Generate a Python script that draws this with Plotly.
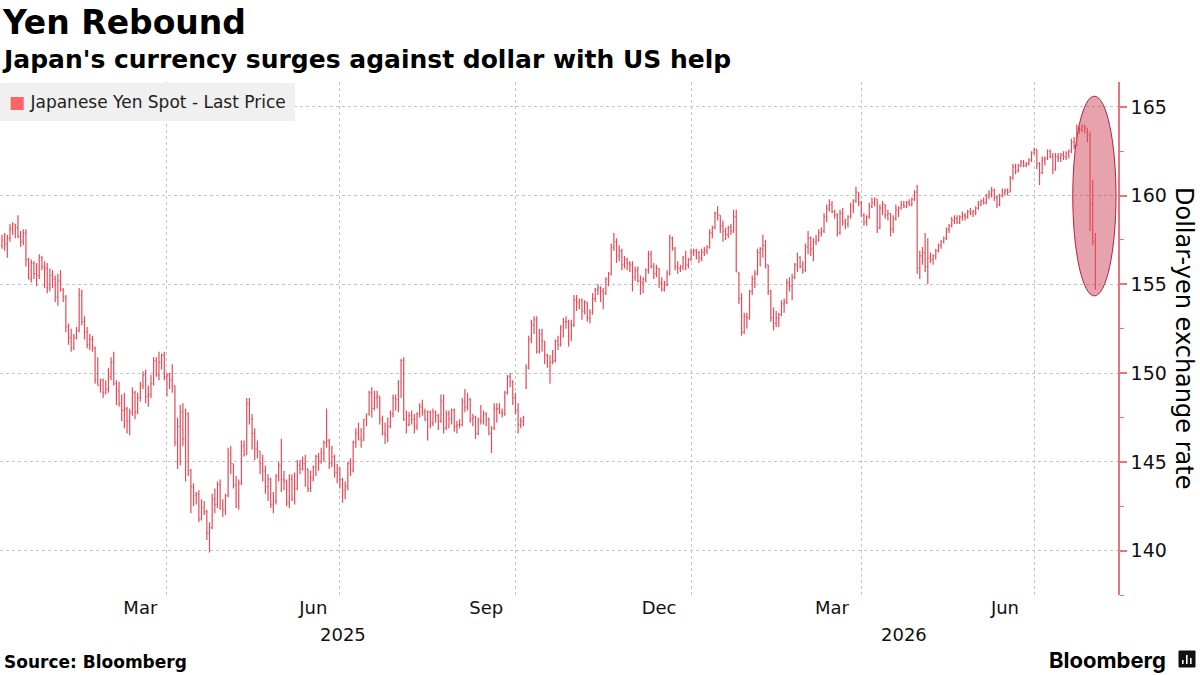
import pandas as pd
import plotly.graph_objects as go

# ---------------- data ----------------
SERIES = "Japanese Yen Spot - Last Price"
dates = pd.bdate_range("2025-01-02", "2026-07-31")  # daily (business day) bars

opens = [
    157.2, 157.5,
    157.3, 157.6, 158.1, 158.4, 158.2,
    157.7, 157.4, 157.9, 156.4, 155.3,
    156.2, 155.6, 155.5, 156.5, 156.0,
    155.9, 154.8, 155.5, 155.3, 154.3,
    155.2, 154.7, 154.3, 152.6, 152.0,
    151.4, 152.0, 152.4, 154.4, 152.9,
    152.3, 151.6, 151.9, 151.4, 149.6,
    149.3, 149.6, 148.9, 149.1, 149.8,
    150.6, 149.4, 149.0, 148.3, 147.9,
    148.0, 147.3, 147.8, 148.9, 147.8,
    148.6, 149.3, 149.9, 148.7, 148.8,
    149.4, 150.7, 149.9, 150.6, 151.0,
    149.8, 149.9, 149.6, 149.3, 146.1,
    147.0, 147.8, 146.3, 147.7, 144.5,
    143.6, 143.1, 143.2, 141.8, 142.4,
    142.2, 141.0, 141.3, 142.9, 142.6,
    143.7, 142.4, 142.3, 143.1, 145.4,
    144.9, 143.7, 142.5, 143.8, 145.9,
    145.4, 148.3, 147.4, 146.6, 145.7,
    145.6, 144.9, 144.5, 143.6, 144.0,
    142.6, 142.8, 144.2, 144.8, 144.0,
    143.9, 142.7, 144.0, 142.9, 143.5,
    144.8, 144.6, 144.9, 144.6, 143.5,
    144.1, 144.7, 145.3, 145.0, 145.5,
    146.1, 146.2, 144.9, 145.3, 144.4,
    144.6, 144.0, 143.4, 143.6, 144.9,
    144.5, 146.1, 146.6, 146.3, 146.2,
    147.4, 147.7, 148.9, 148.0, 148.6,
    148.7, 147.4, 146.6, 146.5, 147.0,
    147.7, 148.6, 148.5, 149.5, 150.7,
    147.4, 147.1, 147.6, 147.4, 147.0,
    147.7, 148.1, 147.8, 147.4, 147.8,
    147.2, 147.8, 147.6, 147.3, 148.4,
    146.9, 147.7, 147.4, 147.9, 147.0,
    147.1, 147.1, 148.4, 148.1, 148.5,
    147.4, 147.5, 146.6, 147.4, 147.3,
    147.7, 147.4, 146.6, 146.9, 148.0,
    148.0, 147.8, 147.7, 148.9, 149.8,
    149.5, 148.6, 147.9, 147.1, 147.3,
    149.2, 150.3, 151.9, 152.7, 153.0,
    151.2, 152.2, 151.8, 151.0, 150.4,
    150.6, 150.7, 151.8, 151.6, 152.6,
    152.9, 152.9, 152.1, 152.7, 154.1,
    154.0, 154.1, 153.5, 154.0, 153.1,
    153.4, 154.2, 154.7, 154.8, 154.6,
    154.5, 155.3, 155.6, 157.1, 157.4,
    156.6, 156.9, 156.1, 156.4, 156.2,
    156.1, 155.4, 155.8, 155.2, 155.1,
    155.3, 155.8, 156.7, 156.0, 155.6,
    155.9, 155.1, 154.7, 155.0, 155.6,
    157.6, 157.0, 156.0, 155.9, 156.0,
    156.5, 156.1, 156.4, 156.8, 156.9,
    156.8, 156.5, 156.8, 156.9, 157.1,
    157.9, 158.2, 159.0, 158.9, 158.3,
    158.0, 157.8, 158.2, 158.0, 158.8,
    155.6, 154.2, 152.3, 153.2, 153.1,
    154.6, 155.3, 155.6, 156.8, 157.0,
    157.2, 156.1, 154.6, 153.1, 152.8,
    153.1, 153.3, 153.9, 154.0, 155.1,
    154.9, 155.4, 156.1, 156.5, 156.0,
    155.8, 157.1, 157.6, 157.0, 157.4,
    157.5, 157.9, 158.0, 158.8, 159.3,
    159.5, 159.1, 158.9, 157.9, 159.0,
    158.5, 158.4, 158.8, 159.4, 159.7,
    160.2, 159.6, 158.9, 158.5, 158.8,
    159.4, 159.6, 159.8, 158.2, 159.3,
    159.5, 158.9, 159.0, 158.1, 158.7,
    159.2, 159.3, 159.5, 159.4, 159.6,
    159.5, 159.8, 160.2, 155.9, 156.6,
    156.8, 156.0, 156.5, 156.4, 156.6,
    156.9, 157.2, 157.4, 157.6, 158.1,
    158.3, 158.6, 158.7, 158.5, 158.8,
    158.9, 158.8, 159.1, 159.0, 159.1,
    159.3, 159.5, 159.7, 159.6, 160.0,
    160.1, 160.3, 159.9, 159.5, 160.0,
    160.2, 160.3, 160.2, 161.0, 161.6,
    161.4, 161.7, 161.9, 161.7, 161.8,
    162.0, 162.4, 162.6, 161.8, 161.3,
    162.0, 162.1, 162.5, 162.2, 161.5,
    162.2, 162.1, 162.3, 162.2, 162.4,
    162.5, 163.0, 162.8, 163.8, 163.7,
    163.9, 163.8, 163.4, 159.5, 157.4,
]

highs = [
    157.8, 157.9,
    157.8, 158.4, 158.5, 158.4, 158.9,
    158.0, 158.1, 158.1, 156.5, 156.4,
    156.3, 156.2, 156.7, 156.6, 156.3,
    156.2, 155.9, 155.8, 155.5, 155.6,
    155.8, 154.8, 154.4, 152.8, 152.5,
    152.2, 152.6, 154.8, 154.7, 153.2,
    152.6, 152.2, 152.1, 151.5, 150.9,
    149.7, 149.7, 149.6, 150.3, 150.9,
    151.2, 149.6, 149.5, 148.8, 148.9,
    148.1, 148.0, 149.2, 149.0, 148.9,
    149.5, 150.1, 150.2, 149.3, 149.9,
    150.9, 150.9, 151.2, 151.1, 151.2,
    150.0, 150.0, 150.5, 149.3, 147.5,
    148.2, 148.3, 148.0, 147.8, 144.6,
    143.8, 143.3, 143.4, 142.9, 142.8,
    142.3, 141.6, 143.2, 143.5, 143.9,
    144.0, 142.9, 143.2, 145.8, 145.9,
    144.9, 144.2, 144.0, 146.2, 146.2,
    148.6, 148.6, 147.7, 146.9, 146.2,
    145.6, 145.4, 144.8, 144.3, 144.1,
    143.3, 144.3, 145.0, 146.3, 144.5,
    144.0, 144.3, 144.3, 144.4, 145.1,
    145.1, 145.3, 145.4, 144.6, 144.5,
    144.8, 145.4, 145.5, 145.8, 146.2,
    148.0, 146.3, 145.9, 145.4, 144.9,
    144.7, 144.1, 143.9, 145.0, 145.2,
    146.2, 146.9, 147.2, 146.9, 147.4,
    147.7, 149.0, 149.2, 149.0, 149.0,
    148.7, 147.6, 147.2, 147.5, 147.9,
    148.8, 148.8, 149.6, 150.8, 150.9,
    147.9, 147.8, 147.9, 147.7, 147.8,
    148.3, 148.5, 148.0, 147.9, 147.9,
    148.0, 147.9, 147.7, 148.8, 148.8,
    147.9, 147.9, 148.0, 148.0, 147.3,
    147.4, 148.6, 149.1, 148.9, 148.6,
    147.7, 147.6, 147.5, 148.2, 147.9,
    147.8, 147.5, 147.0, 148.3, 148.3,
    148.3, 148.0, 149.0, 149.9, 150.0,
    149.6, 148.9, 148.3, 147.5, 147.6,
    150.5, 152.1, 153.0, 153.2, 153.2,
    152.5, 152.5, 151.8, 151.1, 151.0,
    151.3, 151.9, 152.1, 152.7, 153.1,
    153.2, 153.0, 153.0, 154.4, 154.4,
    154.2, 154.2, 154.1, 154.0, 153.6,
    154.5, 154.8, 155.0, 154.9, 154.8,
    155.4, 155.7, 157.3, 157.9, 157.6,
    157.2, 157.0, 156.6, 156.5, 156.3,
    156.3, 156.0, 156.0, 155.5, 155.4,
    155.9, 156.9, 156.9, 156.2, 156.1,
    155.9, 155.4, 155.2, 155.8, 157.8,
    157.7, 157.1, 156.3, 156.1, 156.6,
    156.9, 156.5, 157.0, 157.0, 157.0,
    156.9, 157.0, 157.1, 157.2, 158.1,
    158.3, 159.1, 159.4, 158.9, 158.6,
    158.2, 158.3, 158.4, 159.2, 159.2,
    155.7, 154.5, 153.4, 153.4, 154.7,
    155.5, 155.8, 157.0, 157.1, 157.8,
    157.5, 156.1, 154.7, 153.7, 153.5,
    153.4, 154.1, 154.2, 155.3, 155.4,
    155.6, 156.2, 156.8, 156.6, 156.3,
    157.3, 158.0, 157.7, 157.6, 157.8,
    158.1, 158.2, 159.0, 159.5, 159.8,
    159.7, 159.2, 159.0, 159.2, 159.3,
    158.7, 158.9, 159.6, 159.8, 160.5,
    160.2, 159.7, 159.0, 158.9, 159.6,
    159.9, 159.9, 159.8, 159.5, 159.7,
    159.5, 159.2, 159.0, 158.9, 159.5,
    159.4, 159.7, 159.7, 159.7, 159.8,
    159.9, 160.3, 160.6, 156.9, 157.1,
    157.9, 157.6, 156.8, 156.7, 157.0,
    157.3, 157.5, 157.7, 158.2, 158.4,
    158.8, 158.9, 158.9, 158.9, 159.1,
    159.0, 159.2, 159.3, 159.2, 159.4,
    159.7, 159.8, 159.9, 160.1, 160.3,
    160.5, 160.4, 160.0, 160.1, 160.4,
    160.4, 160.4, 161.1, 161.8, 161.8,
    161.8, 162.0, 162.0, 161.9, 162.1,
    162.5, 162.7, 162.6, 161.9, 162.2,
    162.2, 162.6, 162.6, 162.4, 162.4,
    162.4, 162.4, 162.5, 162.5, 162.6,
    163.2, 163.3, 164.0, 164.0, 164.0,
    164.0, 163.8, 163.6, 160.9, 157.9,
]

lows = [
    157.0, 156.9,
    156.5, 157.4, 157.8, 157.6, 157.6,
    157.1, 157.2, 156.0, 155.3, 155.1,
    155.3, 154.9, 155.3, 155.8, 154.8,
    154.5, 154.6, 154.8, 154.0, 153.8,
    154.6, 154.0, 152.3, 151.6, 151.2,
    151.3, 151.9, 152.3, 152.7, 151.9,
    151.4, 151.3, 151.2, 149.4, 149.3,
    148.9, 148.6, 148.8, 148.9, 149.6,
    149.3, 148.2, 148.1, 147.3, 146.9,
    146.6, 146.5, 147.6, 147.4, 147.7,
    148.4, 149.1, 148.3, 148.1, 148.6,
    149.3, 149.8, 149.6, 150.2, 149.6,
    148.7, 149.1, 148.9, 145.9, 144.6,
    144.8, 145.9, 143.9, 144.2, 142.1,
    142.5, 142.6, 141.6, 141.7, 142.0,
    140.6, 139.9, 141.2, 142.1, 142.4,
    142.3, 141.9, 142.0, 143.0, 144.3,
    143.5, 142.4, 142.3, 143.7, 145.3,
    145.4, 147.1, 145.7, 145.1, 145.2,
    144.3, 143.9, 143.2, 142.8, 142.4,
    142.1, 142.6, 143.9, 143.3, 143.4,
    142.5, 142.4, 142.8, 142.6, 143.4,
    144.3, 144.5, 143.6, 143.3, 143.3,
    143.9, 144.2, 144.5, 144.9, 145.0,
    145.8, 144.6, 144.7, 144.1, 143.8,
    143.5, 142.7, 142.9, 143.4, 144.2,
    144.4, 145.8, 146.2, 145.8, 146.2,
    147.0, 147.6, 147.5, 147.9, 148.0,
    147.1, 146.5, 146.0, 146.1, 146.9,
    147.5, 147.9, 147.8, 148.6, 147.3,
    146.6, 147.0, 147.1, 146.6, 146.8,
    147.5, 147.6, 147.3, 146.2, 146.9,
    147.0, 147.2, 146.8, 147.2, 146.6,
    146.8, 146.9, 147.1, 146.7, 146.6,
    146.9, 147.0, 147.8, 147.9, 147.2,
    147.0, 146.3, 146.5, 147.1, 147.1,
    147.0, 146.5, 145.5, 146.8, 147.2,
    147.7, 147.5, 147.6, 148.8, 149.2,
    148.2, 147.7, 146.6, 146.9, 147.0,
    149.1, 150.2, 151.7, 152.2, 151.1,
    151.1, 151.2, 150.5, 150.3, 149.4,
    150.5, 150.6, 151.3, 151.5, 152.0,
    152.5, 151.5, 151.8, 152.6, 153.5,
    153.6, 153.0, 153.3, 152.9, 152.8,
    153.3, 154.0, 154.4, 154.0, 153.6,
    154.4, 154.9, 155.5, 156.9, 156.2,
    156.3, 155.8, 155.9, 155.8, 155.7,
    154.6, 155.2, 155.1, 154.4, 154.5,
    155.1, 155.6, 155.9, 155.3, 155.4,
    154.8, 154.6, 154.6, 154.9, 155.5,
    156.9, 155.8, 155.6, 155.7, 155.8,
    155.8, 155.9, 156.3, 156.6, 156.4,
    156.2, 156.3, 156.6, 156.7, 157.0,
    157.6, 158.1, 158.6, 157.9, 157.4,
    157.5, 157.6, 157.8, 157.9, 155.7,
    153.9, 152.1, 152.2, 152.5, 153.0,
    154.4, 154.8, 155.5, 156.0, 156.5,
    155.9, 154.4, 152.9, 152.4, 152.6,
    152.6, 153.2, 153.4, 153.9, 154.6,
    154.1, 155.3, 155.7, 155.9, 155.6,
    155.7, 156.7, 156.6, 156.3, 157.2,
    157.4, 157.7, 157.9, 158.5, 159.1,
    159.0, 158.7, 157.7, 157.8, 158.3,
    158.1, 158.2, 158.7, 159.0, 159.6,
    159.4, 158.8, 158.3, 158.3, 158.7,
    159.3, 159.4, 157.9, 158.1, 158.9,
    158.7, 158.6, 157.7, 157.9, 158.6,
    158.8, 159.2, 159.3, 159.3, 159.4,
    159.4, 159.7, 155.6, 155.3, 156.1,
    155.7, 155.0, 156.2, 156.1, 156.4,
    156.8, 157.0, 157.3, 157.5, 157.9,
    158.2, 158.4, 158.4, 158.4, 158.6,
    158.6, 158.7, 158.9, 158.8, 158.9,
    159.2, 159.4, 159.5, 159.5, 159.8,
    159.9, 159.7, 159.3, 159.4, 159.9,
    160.0, 160.0, 160.2, 160.9, 161.2,
    161.3, 161.6, 161.6, 161.6, 161.7,
    161.9, 162.3, 161.5, 160.6, 161.2,
    161.7, 162.0, 162.1, 161.2, 161.4,
    161.9, 161.9, 162.0, 162.0, 162.1,
    162.4, 162.6, 162.8, 163.5, 163.6,
    163.5, 163.0, 158.0, 157.2, 154.7,
]

closes = [
    157.5, 157.3,
    157.6, 158.1, 158.4, 158.2, 157.7,
    157.4, 157.9, 156.4, 155.3, 156.2,
    155.6, 155.5, 156.5, 156.0, 155.9,
    154.8, 155.5, 155.3, 154.3, 155.2,
    154.7, 154.3, 152.6, 152.0, 151.4,
    152.0, 152.4, 154.4, 152.9, 152.3,
    151.6, 151.9, 151.4, 149.6, 149.3,
    149.6, 148.9, 149.1, 149.8, 150.6,
    149.4, 149.0, 148.3, 147.9, 148.0,
    147.3, 147.8, 148.9, 147.8, 148.6,
    149.3, 149.9, 148.7, 148.8, 149.4,
    150.7, 149.9, 150.6, 151.0, 149.8,
    149.9, 149.6, 149.3, 146.1, 147.0,
    147.8, 146.3, 147.7, 144.5, 143.6,
    143.1, 143.2, 141.8, 142.4, 142.2,
    141.0, 141.3, 142.9, 142.6, 143.7,
    142.4, 142.3, 143.1, 145.4, 144.9,
    143.7, 142.5, 143.8, 145.9, 145.4,
    148.3, 147.4, 146.6, 145.7, 145.6,
    144.9, 144.5, 143.6, 144.0, 142.6,
    142.8, 144.2, 144.8, 144.0, 143.9,
    142.7, 144.0, 142.9, 143.5, 144.8,
    144.6, 144.9, 144.6, 143.5, 144.1,
    144.7, 145.3, 145.0, 145.5, 146.1,
    146.2, 144.9, 145.3, 144.4, 144.6,
    144.0, 143.4, 143.6, 144.9, 144.5,
    146.1, 146.6, 146.3, 146.2, 147.4,
    147.7, 148.9, 148.0, 148.6, 148.7,
    147.4, 146.6, 146.5, 147.0, 147.7,
    148.6, 148.5, 149.5, 150.7, 147.4,
    147.1, 147.6, 147.4, 147.0, 147.7,
    148.1, 147.8, 147.4, 147.8, 147.2,
    147.8, 147.6, 147.3, 148.4, 146.9,
    147.7, 147.4, 147.9, 147.0, 147.1,
    147.1, 148.4, 148.1, 148.5, 147.4,
    147.5, 146.6, 147.4, 147.3, 147.7,
    147.4, 146.6, 146.9, 148.0, 148.0,
    147.8, 147.7, 148.9, 149.8, 149.5,
    148.6, 147.9, 147.1, 147.3, 147.5,
    150.3, 151.9, 152.7, 153.0, 151.2,
    152.2, 151.8, 151.0, 150.4, 150.6,
    150.7, 151.8, 151.6, 152.6, 152.9,
    152.9, 152.1, 152.7, 154.1, 154.0,
    154.1, 153.5, 154.0, 153.1, 153.4,
    154.2, 154.7, 154.8, 154.6, 154.5,
    155.3, 155.6, 157.1, 157.4, 156.6,
    156.9, 156.1, 156.4, 156.2, 156.1,
    155.4, 155.8, 155.2, 155.1, 155.3,
    155.8, 156.7, 156.0, 155.6, 155.9,
    155.1, 154.7, 155.0, 155.6, 157.6,
    157.0, 156.0, 155.9, 156.0, 156.5,
    156.1, 156.4, 156.8, 156.9, 156.8,
    156.5, 156.8, 156.9, 157.1, 157.9,
    158.2, 159.0, 158.9, 158.3, 158.0,
    157.8, 158.2, 158.0, 158.8, 155.7,
    154.2, 152.3, 153.2, 153.1, 154.6,
    155.3, 155.6, 156.8, 157.0, 157.2,
    156.1, 154.6, 153.1, 152.8, 153.1,
    153.3, 153.9, 154.0, 155.1, 154.9,
    155.4, 156.1, 156.5, 156.0, 155.8,
    157.1, 157.6, 157.0, 157.4, 157.5,
    157.9, 158.0, 158.8, 159.3, 159.5,
    159.1, 158.9, 157.9, 159.0, 158.5,
    158.4, 158.8, 159.4, 159.7, 160.2,
    159.6, 158.9, 158.5, 158.8, 159.4,
    159.6, 159.8, 158.2, 159.3, 159.5,
    158.9, 159.0, 158.1, 158.7, 159.2,
    159.3, 159.5, 159.4, 159.6, 159.5,
    159.8, 160.2, 155.9, 156.6, 156.8,
    156.0, 156.5, 156.4, 156.6, 156.9,
    157.2, 157.4, 157.6, 158.1, 158.3,
    158.6, 158.7, 158.5, 158.8, 158.9,
    158.8, 159.1, 159.0, 159.1, 159.3,
    159.5, 159.7, 159.6, 160.0, 160.1,
    160.3, 159.9, 159.5, 160.0, 160.2,
    160.3, 160.2, 161.0, 161.6, 161.4,
    161.7, 161.9, 161.7, 161.8, 162.0,
    162.4, 162.6, 161.8, 161.3, 162.0,
    162.1, 162.5, 162.2, 161.5, 162.2,
    162.1, 162.3, 162.2, 162.4, 162.5,
    163.0, 162.8, 163.8, 163.7, 163.9,
    163.8, 163.4, 159.5, 157.4, 156.3,
]

month_tick_dates = ["2025-03-17", "2025-06-16", "2025-09-15",
                    "2025-12-15", "2026-03-16", "2026-06-15"]
month_tick_labels = ["Mar", "Jun", "Sep", "Dec", "Mar", "Jun"]
quarter_grid_dates = ["2025-03-31", "2025-06-30", "2025-09-30",
                      "2025-12-31", "2026-03-31", "2026-06-30"]
year_labels = ["2025", "2026"]
year_label_dates = ["2025-07-01", "2026-04-22"]
y_ticks = [140, 145, 150, 155, 160, 165]

# ---------------- styling ----------------
FONT = "DejaVu Sans, Noto Sans, sans-serif"
LOGO_FONT = "Inter, Lato, DejaVu Sans, sans-serif"
BAR = "#E34C58"
LEG = "#FF6464"
AXIS_RED = "#E8737C"
GRID = "#C4C4C4"

W, H = 1200, 675
ML, MR, MT, MB = 0, 82, 82, 80
PW, PH = W - ML - MR, H - MT - MB


def px(x):  # pixel -> paper x (for decorations only)
    return (x - ML) / PW


def py(y):  # pixel -> paper y (for decorations only)
    return (H - MB - y) / PH


fig = go.Figure()
fig.add_trace(go.Ohlc(
    x=dates, open=opens, high=highs, low=lows, close=closes,
    increasing=dict(line=dict(color=BAR, width=1.2)),
    decreasing=dict(line=dict(color=BAR, width=1.2)),
    tickwidth=0.35, name=SERIES, showlegend=False, hoverinfo="skip",
))

fig.update_layout(
    width=W, height=H,
    margin=dict(l=ML, r=MR, t=MT, b=MB),
    paper_bgcolor="white", plot_bgcolor="white",
    font=dict(family=FONT, color="#111"),
    showlegend=False,
    xaxis=dict(
        type="date",
        range=["2025-01-01 06:00", "2026-08-12 12:00"],
        rangebreaks=[dict(bounds=["sat", "mon"])],
        rangeslider=dict(visible=False),
        tickmode="array", tickvals=month_tick_dates, ticktext=month_tick_labels,
        showgrid=False, ticks="", showline=False, zeroline=False,
        tickfont=dict(size=18, family=FONT, color="#111"),
        minor=dict(tickmode="array", tickvals=quarter_grid_dates,
                   showgrid=True, gridcolor=GRID, griddash="dot", gridwidth=1,
                   ticks=""),
    ),
    yaxis=dict(
        side="right", range=[137.5, 166.4],
        tickmode="array", tickvals=y_ticks,
        showgrid=True, gridcolor=GRID, griddash="dot", gridwidth=1,
        showline=True, linecolor=AXIS_RED, linewidth=1.5,
        ticks="outside", ticklen=7, tickwidth=2, tickcolor=AXIS_RED,
        tickfont=dict(size=19, family=FONT, color="#111"),
        minor=dict(dtick=2.5, ticks="outside", ticklen=4, tickwidth=1,
                   tickcolor=AXIS_RED, showgrid=False),
        zeroline=False,
    ),
)

# highlight ellipse around the latest drop
fig.add_shape(type="circle", xref="x", yref="y",
              x0="2026-07-20 12:00", x1="2026-08-11 18:00",
              y0=154.35, y1=165.6,
              fillcolor="rgba(195,35,60,0.42)",
              line=dict(color="#B3213D", width=1), layer="between")

annotations = [
    dict(text="<b>Yen Rebound</b>", x=px(0), y=py(22), xref="paper", yref="paper",
         xanchor="left", yanchor="middle", showarrow=False,
         font=dict(size=33, family=FONT, color="#000")),
    dict(text="<b>Japan's currency surges against dollar with US help</b>",
         x=px(0), y=py(60), xref="paper", yref="paper",
         xanchor="left", yanchor="middle", showarrow=False,
         font=dict(size=25, family=FONT, color="#000")),
    # legend box
    dict(text=f"<span style='color:{LEG}'>■</span> {SERIES}",
         x=px(0), y=py(83), xref="paper", yref="paper",
         xanchor="left", yanchor="top", showarrow=False, align="left",
         bgcolor="#F0F0F0", borderpad=9, borderwidth=0,
         font=dict(size=17, family=FONT, color="#222")),
    dict(text="<b>Source: Bloomberg</b>", x=px(2), y=py(662), xref="paper", yref="paper",
         xanchor="left", yanchor="middle", showarrow=False,
         font=dict(size=17, family=FONT, color="#000")),
    dict(text="<b>Bloomberg</b>", x=px(1168), y=py(660), xref="paper", yref="paper",
         xanchor="right", yanchor="middle", showarrow=False,
         font=dict(size=22, family=LOGO_FONT, color="#000")),
    dict(text="Dollar-yen exchange rate", x=px(1184), y=py(338), xref="paper", yref="paper",
         xanchor="center", yanchor="middle", showarrow=False, textangle=90,
         font=dict(size=24, family=FONT, color="#000")),
]
for lbl, d in zip(year_labels, year_label_dates):
    annotations.append(dict(text=lbl, x=d, y=py(634), xref="x", yref="paper",
                            xanchor="center", yanchor="middle", showarrow=False,
                            font=dict(size=18, family=FONT, color="#111")))
fig.update_layout(annotations=annotations)

# small Bloomberg logo mark (decoration)
fig.add_shape(type="rect", xref="paper", yref="paper",
              x0=px(1179), x1=px(1195), y0=py(667), y1=py(651),
              fillcolor="#111", line=dict(color="#111", width=1))
for bx, top in [(1182, 660), (1186, 655), (1190, 658)]:
    fig.add_shape(type="rect", xref="paper", yref="paper",
                  x0=px(bx), x1=px(bx + 1.6), y0=py(664), y1=py(top),
                  fillcolor="white", line=dict(width=0))

fig.write_html("out.html", config={"displayModeBar": False},
               post_script="document.body.style.margin='0';")
